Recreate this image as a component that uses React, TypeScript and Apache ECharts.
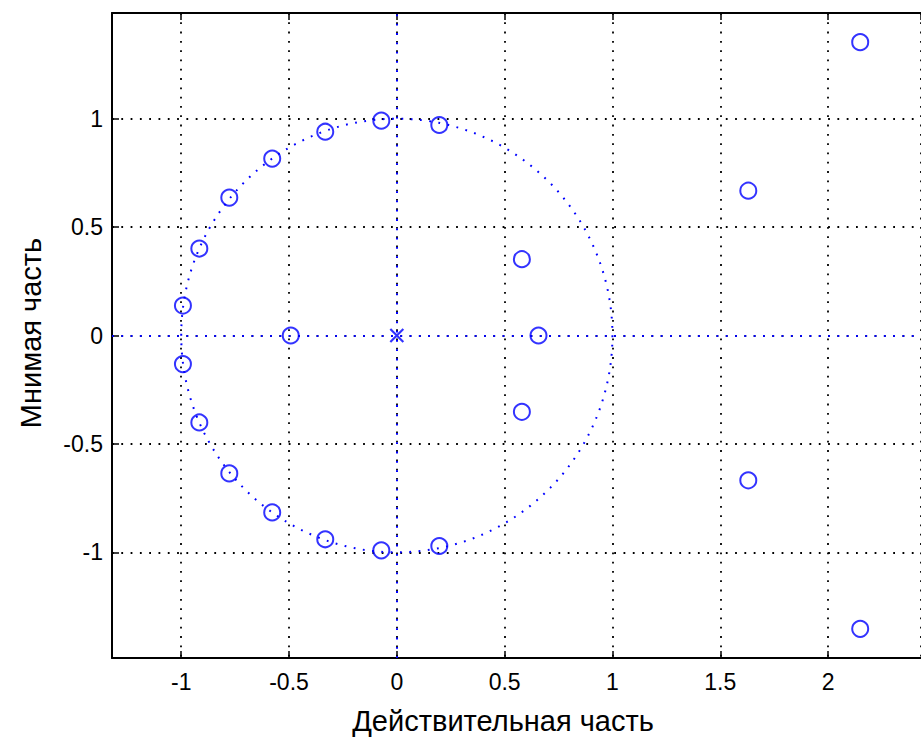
import React, { useEffect, useRef } from "react";
import * as echarts from "echarts";

const zeroRe = [
  -0.072, 0.197, -0.332, -0.578, -0.777, -0.916, -0.992,
  -0.072, 0.197, -0.332, -0.578, -0.777, -0.916, -0.992,
  -0.492, 0.58, 0.58, 0.657, 1.63, 1.63, 2.149, 2.149,
];
const zeroIm = [
  0.991, 0.971, 0.94, 0.816, 0.636, 0.401, 0.138,
  -0.991, -0.971, -0.94, -0.816, -0.636, -0.401, -0.132,
  0, 0.352, -0.352, 0, 0.668, -0.668, 1.353, -1.353,
];
// Poles
const poleRe = [0];
const poleIm = [0];
// Unit circle: centre and radius
const unitCircle = [[0, 0, 1]];

const xRange = [-1.321, 2.431];
const yRange = [-1.4875, 1.4875];

const xTitle = "Действительная часть";
const yTitle = "Мнимая часть";

const BLUE = "#0000ff";
const FONT = "Liberation Sans, Arial, sans-serif";
const DOT = [1.8, 7.5];

export default function App() {
  const ref = useRef<HTMLDivElement>(null);
  useEffect(() => {
    if (!ref.current) return;
    const chart = echarts.init(ref.current, null, { renderer: "svg" });
    const fmt = (v: number) =>
      Math.abs(v * 2 - Math.round(v * 2)) < 1e-6 ? String(Math.round(v * 2) / 2) : "";
    const baseAxis = {
      type: "value",
      minInterval: 0.5,
      maxInterval: 0.5,
      axisLine: { show: true, onZero: false, lineStyle: { color: "#000", width: 2 } },
      axisTick: { show: true, inside: true, length: 7, lineStyle: { color: "#000", width: 1.5 } },
      axisLabel: {
        color: "#000",
        fontSize: 23,
        fontFamily: FONT,
        formatter: fmt,
        showMinLabel: false,
        showMaxLabel: false,
      },
      splitLine: { show: true, lineStyle: { color: "#000", width: 1.8, type: DOT } },
    };
    chart.setOption({
      animation: false,
      backgroundColor: "#fff",
      grid: { left: 112, top: 13, right: 0, bottom: 82, containLabel: false },
      xAxis: [
        { ...baseAxis, min: xRange[0], max: xRange[1], position: "bottom", axisLabel: { ...baseAxis.axisLabel, margin: 12 } },
        {
          ...baseAxis,
          min: xRange[0],
          max: xRange[1],
          position: "top",
          axisLabel: { show: false },
          splitLine: { show: false },
        },
      ],
      yAxis: [
        { ...baseAxis, min: yRange[0], max: yRange[1], position: "left", axisLabel: { ...baseAxis.axisLabel, margin: 9 } },
      ],
      graphic: [
        {
          type: "text",
          x: 503,
          y: 721,
          style: {
            text: xTitle,
            fontSize: 29,
            fontFamily: FONT,
            fill: "#000",
            align: "center",
            verticalAlign: "middle",
          },
        },
        {
          type: "text",
          x: 31,
          y: 333,
          rotation: Math.PI / 2,
          style: {
            text: yTitle,
            fontSize: 29,
            fontFamily: FONT,
            fill: "#000",
            align: "center",
            verticalAlign: "middle",
          },
        },
      ],
      series: [
        {
          type: "custom",
          xAxisIndex: 0,
          yAxisIndex: 0,
          data: unitCircle,
          encode: { x: 0, y: 1 },
          silent: true,
          z: 3,
          renderItem: (params: any, api: any) => {
            const c = api.coord([api.value(0), api.value(1)]);
            const s = api.size([api.value(2), api.value(2)]);
            return {
              type: "ellipse",
              shape: { cx: c[0], cy: c[1], rx: s[0], ry: s[1] },
              style: { fill: "none", stroke: BLUE, lineWidth: 2, lineDash: DOT },
            };
          },
        },
        {
          type: "scatter",
          name: "zeros",
          data: zeroRe.map((x, i) => [x, zeroIm[i]]),
          symbol: "circle",
          symbolSize: 16,
          z: 5,
          itemStyle: { color: "rgba(0,0,0,0)", borderColor: BLUE, borderWidth: 2 },
          markLine: {
            silent: true,
            symbol: "none",
            label: { show: false },
            lineStyle: { color: BLUE, width: 2, type: DOT },
            data: [{ xAxis: 0 }, { yAxis: 0 }],
          },
        },
        {
          type: "scatter",
          name: "poles",
          data: poleRe.map((x, i) => [x, poleIm[i]]),
          symbol: "path://M0,0L10,10M10,0L0,10",
          symbolSize: 13,
          z: 6,
          itemStyle: { color: "rgba(0,0,0,0)", borderColor: BLUE, borderWidth: 2.2 },
        },
      ],
    });
    return () => chart.dispose();
  }, []);
  return (
    <div
      ref={ref}
      style={{ position: "fixed", left: 0, top: 0, width: 921, height: 740, background: "#fff" }}
    />
  );
}
